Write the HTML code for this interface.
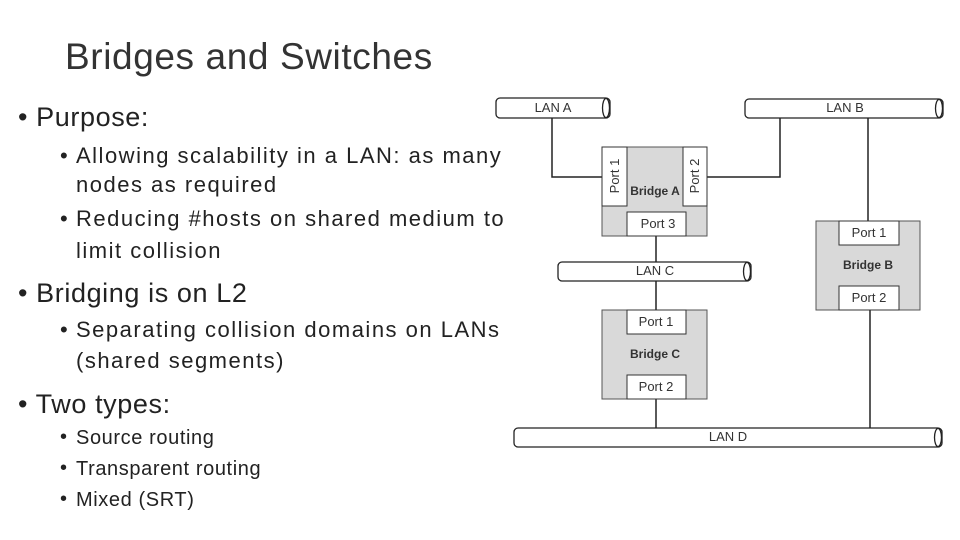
<!DOCTYPE html>
<html><head><style>
body{margin:0;width:960px;height:540px;background:#fff;position:relative;overflow:hidden;font-family:"Liberation Sans",sans-serif;color:#222}
.t{position:absolute;white-space:nowrap;line-height:1}
.s{font-size:22px;letter-spacing:1.5px;left:76px}
.b{font-size:22px;left:60px}
.m{font-size:27px;letter-spacing:0.6px}
.x{font-size:20px;letter-spacing:0.6px;left:76px}
</style></head><body>
<div class="t" style="left:65px;top:38px;font-size:37px;letter-spacing:0.6px;color:#333">Bridges and Switches</div>
<div class="t m" style="left:18px;top:104px">• Purpose:</div>
<div class="t b" style="top:145px">•</div><div class="t s" style="top:145px">Allowing scalability in a LAN: as many</div>
<div class="t s" style="top:174px">nodes as required</div>
<div class="t b" style="top:208px">•</div><div class="t s" style="top:208px">Reducing #hosts on shared medium to</div>
<div class="t s" style="top:240px">limit collision</div>
<div class="t m" style="left:18px;top:280px">• Bridging is on L2</div>
<div class="t b" style="top:319px">•</div><div class="t s" style="top:319px">Separating collision domains on LANs</div>
<div class="t s" style="top:350px">(shared segments)</div>
<div class="t m" style="left:18px;top:391px">• Two types:</div>
<div class="t b" style="top:427px;font-size:20px">•</div><div class="t x" style="top:428px">Source routing</div>
<div class="t b" style="top:458px;font-size:20px">•</div><div class="t x" style="top:459px">Transparent routing</div>
<div class="t b" style="top:489px;font-size:20px">•</div><div class="t x" style="top:490px">Mixed (SRT)</div>
<svg width="960" height="540" style="position:absolute;left:0;top:0" font-family="Liberation Sans,sans-serif" font-size="13" fill="none">
<g stroke="#222" stroke-width="1.5">
<polyline points="552,118 552,177 602,177"/>
<polyline points="780,118 780,177 707,177"/>
<line x1="868" y1="118" x2="868" y2="221"/>
<line x1="656" y1="236" x2="656" y2="262"/>
<line x1="656" y1="281" x2="656" y2="310"/>
<line x1="656" y1="399" x2="656" y2="428"/>
<line x1="870" y1="310" x2="870" y2="428"/>
</g>
<g stroke="#222" stroke-width="1.3" fill="#fff">
<rect x="496" y="98" width="114" height="20" rx="4"/><ellipse cx="606" cy="108" rx="3.5" ry="9.5"/>
<rect x="745" y="99" width="198" height="19" rx="4"/><ellipse cx="939" cy="108.5" rx="3.5" ry="9"/>
<rect x="558" y="262" width="193" height="19" rx="4"/><ellipse cx="747" cy="271.5" rx="3.5" ry="9"/>
<rect x="514" y="428" width="428" height="19" rx="4"/><ellipse cx="938" cy="437.5" rx="3.5" ry="9"/>
</g>
<g stroke="#555" stroke-width="1" fill="#d9d9d9">
<rect x="602" y="147" width="105" height="89"/>
<rect x="816" y="221" width="104" height="89"/>
<rect x="602" y="310" width="105" height="89"/>
</g>
<g stroke="#333" stroke-width="1" fill="#fff">
<rect x="602" y="147" width="25" height="59"/><rect x="683" y="147" width="24" height="59"/>
<rect x="627" y="212" width="59" height="24"/>
<rect x="839" y="221" width="60" height="24"/><rect x="839" y="286" width="60" height="24"/>
<rect x="627" y="310" width="59" height="24"/><rect x="627" y="375" width="59" height="24"/>
</g>
<g fill="#333" text-anchor="middle">
<text x="553" y="112">LAN A</text><text x="845" y="112">LAN B</text>
<text x="655" y="275">LAN C</text><text x="728" y="441">LAN D</text>
<text x="658" y="228">Port 3</text><text x="869" y="237">Port 1</text><text x="869" y="302">Port 2</text>
<text x="656" y="326">Port 1</text><text x="656" y="391">Port 2</text>
<text transform="translate(619,176) rotate(-90)">Port 1</text>
<text transform="translate(699,176) rotate(-90)">Port 2</text>
<g font-weight="bold" font-size="12"><text x="655" y="195">Bridge A</text><text x="868" y="269">Bridge B</text><text x="655" y="358">Bridge C</text></g>
</g>
</svg>
</body></html>
